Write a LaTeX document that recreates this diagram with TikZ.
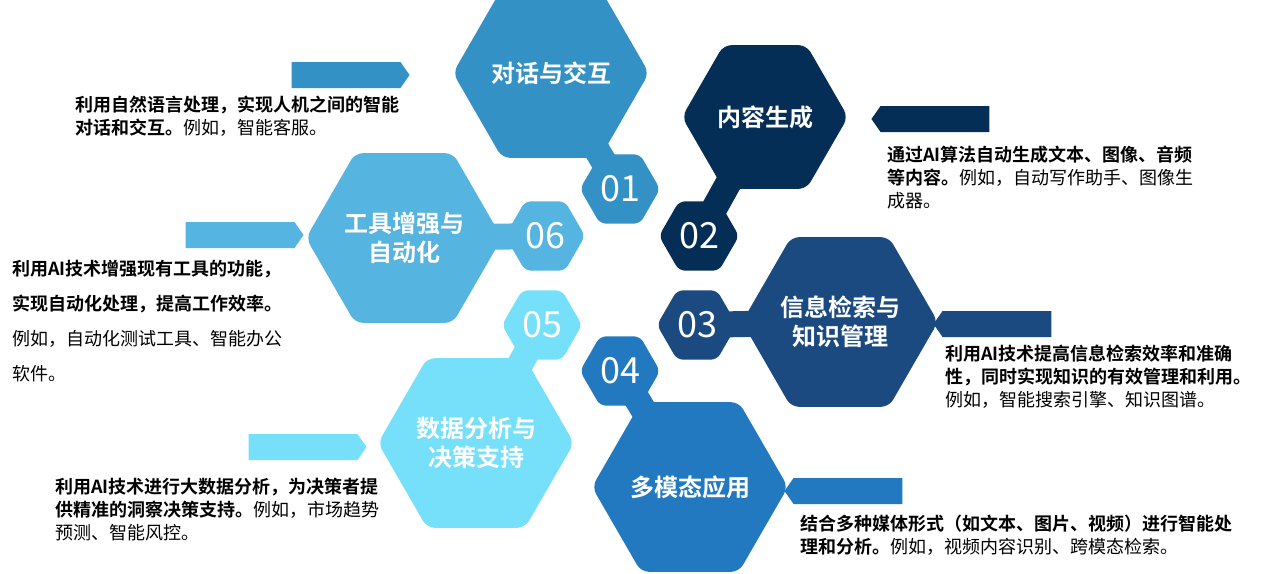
\documentclass[tikz,border=0pt]{standalone}
\usepackage{fontspec}
\setmainfont{Noto Sans CJK SC}[BoldFont={Noto Sans CJK SC Bold}]
\usetikzlibrary{shapes.geometric,shapes.symbols,backgrounds}
\definecolor{cA}{HTML}{3391C6}
\definecolor{cB}{HTML}{052E57}
\definecolor{cC}{HTML}{1A4A80}
\definecolor{cD}{HTML}{2379C0}
\definecolor{cE}{HTML}{76E0FA}
\definecolor{cF}{HTML}{55B4E0}
\tikzset{
  bighex/.style={regular polygon,regular polygon sides=6,minimum size=166pt,
    inner sep=0pt,rounded corners=8pt,fill=#1,text=white,align=center,
    font=\fontsize{24}{29}\selectfont\bfseries},
  smallhex/.style={regular polygon,regular polygon sides=6,minimum size=80pt,
    inner sep=0pt,rounded corners=6pt,fill=#1,text=white,
    font=\fontsize{36}{36}\selectfont},
  neck/.style={line width=26pt,draw=#1},
  tag/.style={signal,signal to=#1,signal pointer angle=110,minimum width=118pt,
    minimum height=26pt,inner sep=0pt},
  desc/.style={anchor=north west,align=left,inner sep=0pt,
    font=\fontsize{18}{23}\selectfont}
}
\begin{document}
\begin{tikzpicture}[x=1pt,y=-1pt]
  \useasboundingbox (0,0) rectangle (1269,573);
  % hexagons
  \node[bighex=cA]   (h1) at (551,73)  {对话与交互};
  \node[smallhex=cA] (s1) at (620,189) {01};
  \node[bighex=cB]   (h2) at (765,117) {内容生成};
  \node[smallhex=cB] (s2) at (699,236) {02};
  \node[bighex=cC]   (h3) at (840,322) {信息检索与\\知识管理};
  \node[smallhex=cC] (s3) at (697,325) {03};
  \node[bighex=cD]   (h4) at (690,487) {多模态应用};
  \node[smallhex=cD] (s4) at (620,371) {04};
  \node[bighex=cE]   (h5) at (476,443) {数据分析与\\决策支持};
  \node[smallhex=cE] (s5) at (542,325) {05};
  \node[bighex=cF]   (h6) at (404,238) {工具增强与\\自动化};
  \node[smallhex=cF] (s6) at (545,236) {06};
  \begin{scope}[on background layer]
    \foreach \i/\c in {1/cA,2/cB,3/cC,4/cD,5/cE,6/cF}
      \draw[neck=\c] (h\i.center) -- (s\i.center);
  \end{scope}
  % tags
  \node[tag=east,fill=cA] (t1) at (346,75)  {};
  \node[tag=west,fill=cB] (t2) at (935,119) {};
  \node[tag=west,fill=cC] (t3) at (997,324) {};
  \node[tag=west,fill=cD] (t4) at (848,491) {};
  \node[tag=east,fill=cE] (t5) at (303,447) {};
  \node[tag=east,fill=cF] (t6) at (240,235) {};
  % descriptions
  \node[desc] (d1) at (75,96)
    {\textbf{利用自然语言处理，实现人机之间的智能}\\\textbf{对话和交互。}例如，智能客服。};
  \node[desc] (d2) at (887,146)
    {\textbf{通过AI算法自动生成文本、图像、音频}\\\textbf{等内容。}例如，自动写作助手、图像生\\成器。};
  \node[desc] (d3) at (945,345)
    {\textbf{利用AI技术提高信息检索效率和准确}\\\textbf{性，同时实现知识的有效管理和利用。}\\例如，智能搜索引擎、知识图谱。};
  \node[desc] (d4) at (800,515)
    {\textbf{结合多种媒体形式（如文本、图片、视频）进行智能处}\\\textbf{理和分析。}例如，视频内容识别、跨模态检索。};
  \node[desc] (d5) at (55,478)
    {\textbf{利用AI技术进行大数据分析，为决策者提}\\\textbf{供精准的洞察决策支持。}例如，市场趋势\\预测、智能风控。};
  \node[desc,font=\fontsize{18}{35}\selectfont] (d6) at (12,260)
    {\textbf{利用AI技术增强现有工具的功能，}\\\textbf{实现自动化处理，提高工作效率。}\\例如，自动化测试工具、智能办公\\软件。};
\end{tikzpicture}
\end{document}
